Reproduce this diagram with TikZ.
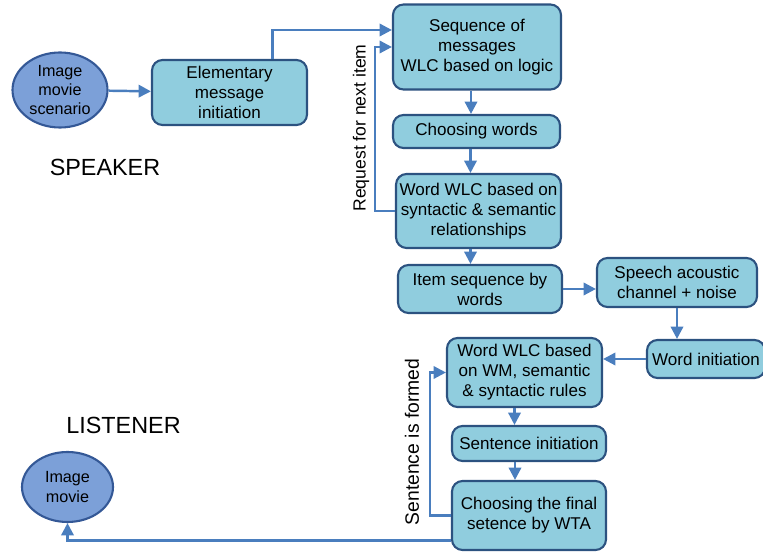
\documentclass[tikz,border=0pt]{standalone}
\usepackage{fontspec}
\setmainfont{Liberation Sans}
\usetikzlibrary{shapes.geometric,arrows.meta}

\definecolor{boxfill}{RGB}{144,205,222}
\definecolor{boxline}{RGB}{44,82,128}
\definecolor{ellfill}{RGB}{124,160,216}
\definecolor{ellline}{RGB}{52,88,150}
\definecolor{arrcol}{RGB}{74,126,190}

\begin{document}
\begin{tikzpicture}[
  box/.style={rectangle,rounded corners=6pt,draw=boxline,line width=1.2pt,fill=boxfill,
              font=\fontsize{9.7}{11.4}\selectfont,align=center,inner sep=2pt},
  blob/.style={ellipse,draw=ellline,line width=1.2pt,fill=ellfill,
               font=\fontsize{9.2}{11}\selectfont,align=center,inner sep=0pt},
  arr/.style={-{Triangle[length=7pt,width=7pt]},draw=arrcol,line width=1.4pt},
  side/.style={font=\fontsize{13.3}{15}\selectfont},
  loopnote/.style={rotate=90,font=\fontsize{10}{12}\selectfont},
]
\useasboundingbox (0,0) rectangle (15.26,-11.18);

% Speaker side
\node[side] (spk) at (2.1,-3.34) {SPEAKER};
\node[blob,minimum width=1.9cm,minimum height=1.5cm] (scen) at (1.2,-1.8) {Image\\movie\\scenario};
\node[box,minimum width=3.1cm,minimum height=1.3cm] (elem) at (4.59,-1.85) {Elementary\\message\\initiation};
\node[box,minimum width=3.36cm,minimum height=1.7cm] (seq) at (9.54,-0.94) {Sequence of\\messages\\WLC based on logic};
\node[box,minimum width=3.34cm,minimum height=0.66cm] (choose) at (9.53,-2.63) {Choosing words};
\node[box,minimum width=3.22cm,minimum height=1.48cm] (wwlc) at (9.57,-4.22) {Word WLC based on\\syntactic \& semantic\\relationships};
\node[box,minimum width=3.28cm,minimum height=0.96cm] (item) at (9.6,-5.78) {Item sequence by\\words};
\coordinate (reqbend) at (7.5,0);

% Channel
\node[box,minimum width=3.2cm,minimum height=0.98cm] (speech) at (13.54,-5.65) {Speech acoustic\\channel + noise};

% Listener side
\node[side] (lst) at (2.47,-8.5) {LISTENER};
\node[box,minimum width=2.36cm,minimum height=0.76cm] (winit) at (14.12,-7.18) {Word initiation};
\node[box,minimum width=3.1cm,minimum height=1.38cm] (wm) at (10.49,-7.45) {Word WLC based\\on WM, semantic\\\& syntactic rules};
\node[box,minimum width=3.08cm,minimum height=0.7cm] (sinit) at (10.58,-8.87) {Sentence initiation};
\node[box,minimum width=3.08cm,minimum height=1.38cm] (final) at (10.58,-10.31) {Choosing the final\\setence by WTA};
\node[blob,minimum width=1.82cm,minimum height=1.4cm] (movie) at (1.35,-9.74) {Image\\movie};
\coordinate (formbend) at (8.6,0);

% Arrows, speaker
\draw[arr] (scen) -- (elem);
\draw[arr] ([xshift=0.86cm]elem.north) |- ([yshift=0.34cm]seq.west);
\draw[arr] ([xshift=-0.12cm]seq.south) -- ([xshift=-0.12cm]seq.south |- choose.north);
\draw[arr] ([xshift=-0.12cm]choose.south) -- ([xshift=-0.12cm]choose.south |- wwlc.north);
\draw[arr] ([xshift=-0.16cm]wwlc.south) -- ([xshift=-0.16cm]wwlc.south |- item.north);
\draw[arr] (wwlc.west) -- (wwlc.west -| reqbend) |- (seq.west);
\node[loopnote] (req) at (7.22,-2.56) {Request for next item};

% Arrows, channel
\draw[arr] (item.east) -- (item.east -| speech.west);
\draw[arr] (speech.south) -- (speech.south |- winit.north);
\draw[arr] (winit.west) -- (winit.west -| wm.east);

% Arrows, listener
\draw[arr] ([xshift=-0.2cm]wm.south) -- ([xshift=-0.2cm]wm.south |- sinit.north);
\draw[arr] ([xshift=-0.28cm]sinit.south) -- ([xshift=-0.28cm]sinit.south |- final.north);
\draw[arr] (final.west) -- (final.west -| formbend) |- (wm.west);
\node[loopnote,font=\fontsize{11}{13}\selectfont] (formed) at (8.24,-8.84) {Sentence is formed};
\draw[arr] ([yshift=-0.5cm]final.west) -| (movie.south);

\end{tikzpicture}
\end{document}
